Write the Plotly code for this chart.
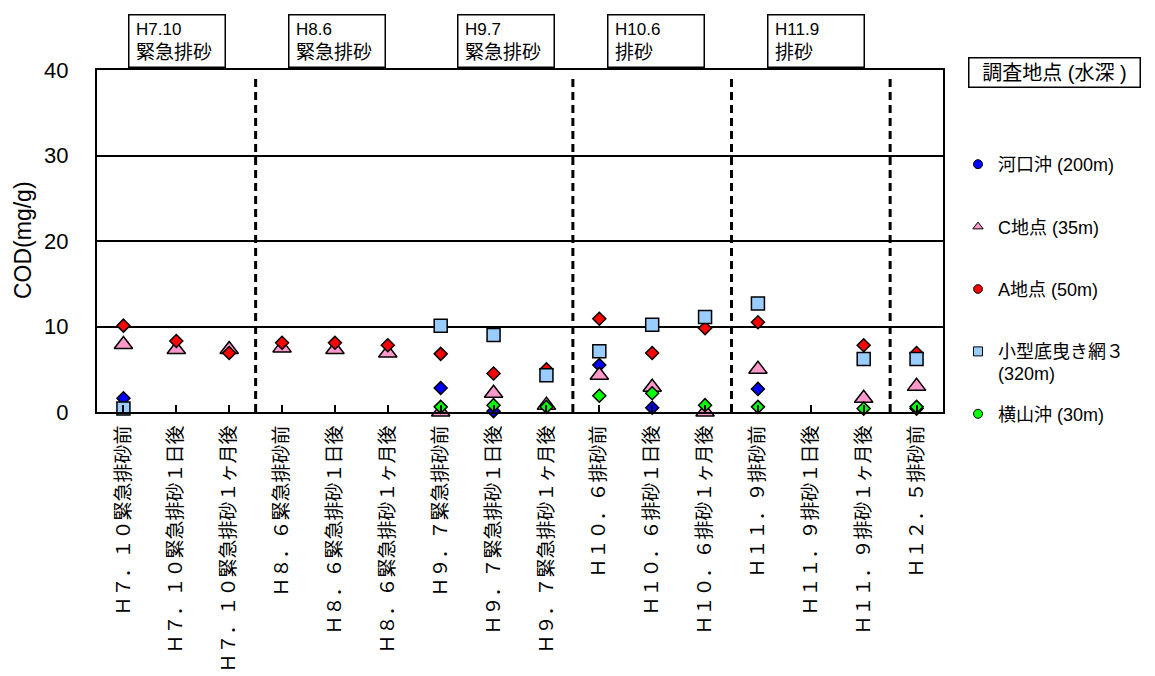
import plotly.graph_objects as go

categories = [
    "Ｈ７．１０緊急排砂前", "Ｈ７．１０緊急排砂１日後", "Ｈ７．１０緊急排砂１ヶ月後",
    "Ｈ８．６緊急排砂前", "Ｈ８．６緊急排砂１日後", "Ｈ８．６緊急排砂１ヶ月後",
    "Ｈ９．７緊急排砂前", "Ｈ９．７緊急排砂１日後", "Ｈ９．７緊急排砂１ヶ月後",
    "Ｈ１０．６排砂前", "Ｈ１０．６排砂１日後", "Ｈ１０．６排砂１ヶ月後",
    "Ｈ１１．９排砂前", "Ｈ１１．９排砂１日後", "Ｈ１１．９排砂１ヶ月後",
    "Ｈ１２．５排砂前",
]

kakou = [1.6, None, None, None, None, None, 2.8, 0.1, None, 5.5, 0.5, None, 2.7, None, None, 0.4]
c_point = [7.9, 7.3, 7.3, 7.5, 7.3, 6.9, 0.0, 2.2, 0.8, 4.3, 2.9, 0.0, 5.0, None, 1.6, 3.0]
a_point = [10.1, 8.3, 6.9, 8.1, 8.1, 7.8, 6.8, 4.5, 5.0, 10.9, 6.9, 9.8, 10.5, None, 7.8, 6.9]
kogata = [0.4, None, None, None, None, None, 10.1, 9.0, 4.3, 7.1, 10.2, 11.1, 12.7, None, 6.2, 6.2]
yokoyama = [None, None, None, None, None, None, 0.6, 0.8, 0.6, 1.9, 2.2, 0.8, 0.6, None, 0.4, 0.6]

series_names = ["河口沖 (200m)", "C地点 (35m)", "A地点 (50m)", "小型底曳き網３", "横山沖 (30m)"]
series_values = [kakou, c_point, a_point, kogata, yokoyama]
plot_symbols = ["diamond", "triangle-up", "diamond", "square", "diamond"]
legend_symbols = ["circle", "triangle-up", "octagon", "square", "circle"]
colors = ["#0000FF", "#FF99CC", "#FF0000", "#99CCFF", "#00FF00"]
sizes = [10, 16, 10, 13, 10]

divider_after = [2.5, 8.5, 11.5, 14.5]
event_top = ["H7.10", "H8.6", "H9.7", "H10.6", "H11.9"]
event_bottom = ["緊急排砂", "緊急排砂", "緊急排砂", "排砂", "排砂"]
event_px = [128, 288, 457, 607, 767]

FONT = "Liberation Sans, Arial, 'Noto Sans CJK JP', sans-serif"

# page body has an 8px margin; reference pixel coordinates are page coordinates
OFF = 8
PL, PR, PT, PB = 97, 943, 70, 412   # plot area in reference pixels
FIG_W, FIG_H = 1155 - OFF, 676 - OFF
W = PR - PL
H = PB - PT


def px(xr):
    return (xr - PL) / W


def py(yr):
    return (PB - yr) / H


fig = go.Figure()
xs = list(range(len(categories)))
for name, vals, sym, col, sz in zip(series_names, series_values, plot_symbols, colors, sizes):
    fig.add_trace(go.Scatter(
        x=xs, y=vals, mode="markers", showlegend=False, cliponaxis=False,
        marker=dict(symbol=sym, color=col, size=sz, line=dict(color="black", width=1.5)),
    ))
for i, (name, sym, col) in enumerate(zip(series_names, legend_symbols, colors)):
    fig.add_trace(go.Scatter(
        x=[None], y=[None], mode="markers", name=name, legendgroup=f"g{i}",
        marker=dict(symbol=sym, color=col, size=9, line=dict(color="black", width=1)),
    ))

for d in divider_after:
    fig.add_shape(type="line", xref="x", yref="y", x0=d, x1=d, y0=0, y1=39.0,
                  line=dict(color="black", width=3, dash="8px,5px"))

for top, bot, xr in zip(event_top, event_bottom, event_px):
    fig.add_annotation(
        xref="paper", yref="paper", x=px(xr), y=py(68),
        xanchor="left", yanchor="bottom",
        text=f"\u00a0<span style='font-size:17px'>{top}</span><br>\u00a0<span style='font-size:19px'>{bot}</span>",
        showarrow=False, align="left", width=92, height=48, valign="middle",
        bordercolor="black", borderwidth=1.5, borderpad=1.5, bgcolor="white",
        font=dict(family=FONT, size=18, color="black"),
    )

fig.add_annotation(
    xref="paper", yref="paper", x=px(968), y=py(57),
    xanchor="left", yanchor="top", text="調査地点 (水深 )", showarrow=False,
    width=168, height=26, align="center", valign="middle",
    bordercolor="black", borderwidth=1.5, borderpad=1, bgcolor="white",
    font=dict(family=FONT, size=20, color="black"),
)

fig.add_annotation(
    xref="paper", yref="paper", x=px(996), y=py(374),
    xanchor="left", yanchor="middle", text="(320m)", showarrow=False,
    font=dict(family=FONT, size=18, color="black"),
)

fig.add_annotation(
    xref="paper", yref="paper", x=px(23), y=py(240),
    xanchor="center", yanchor="middle", text="COD(mg/g)", textangle=-90,
    showarrow=False, font=dict(family=FONT, size=23, color="black"),
)

fig.update_layout(
    width=FIG_W, height=FIG_H,
    margin=dict(l=PL - OFF, r=FIG_W - (PR - OFF), t=PT - OFF, b=FIG_H - (PB - OFF), autoexpand=False),
    plot_bgcolor="white", paper_bgcolor="white",
    font=dict(family=FONT, color="black"),
    legend=dict(
        x=px(958), y=py(146), xanchor="left", yanchor="top",
        traceorder="grouped", tracegroupgap=36, valign="middle",
        font=dict(family=FONT, size=18, color="black"),
        bgcolor="rgba(0,0,0,0)", itemwidth=30,
    ),
    xaxis=dict(
        range=[-0.5, len(categories) - 0.5],
        tickmode="array", tickvals=xs, ticktext=categories,
        tickangle=-90, ticks="inside", tickson="boundaries", ticklen=7,
        tickwidth=1.5, tickcolor="black",
        showline=True, linecolor="black", linewidth=2, mirror=True,
        showgrid=False, zeroline=False, ticklabelstandoff=4,
        tickfont=dict(family=FONT, size=19, color="black"),
        automargin=False,
    ),
    yaxis=dict(
        range=[0, 40], tickvals=[0, 10, 20, 30, 40],
        showline=True, linecolor="black", linewidth=2, mirror=True,
        showgrid=True, gridcolor="black", gridwidth=1.5, zeroline=False,
        ticks="", ticklabelstandoff=22,
        tickfont=dict(family=FONT, size=22, color="black"),
        automargin=False,
    ),
)

fig.write_html("out.html")
